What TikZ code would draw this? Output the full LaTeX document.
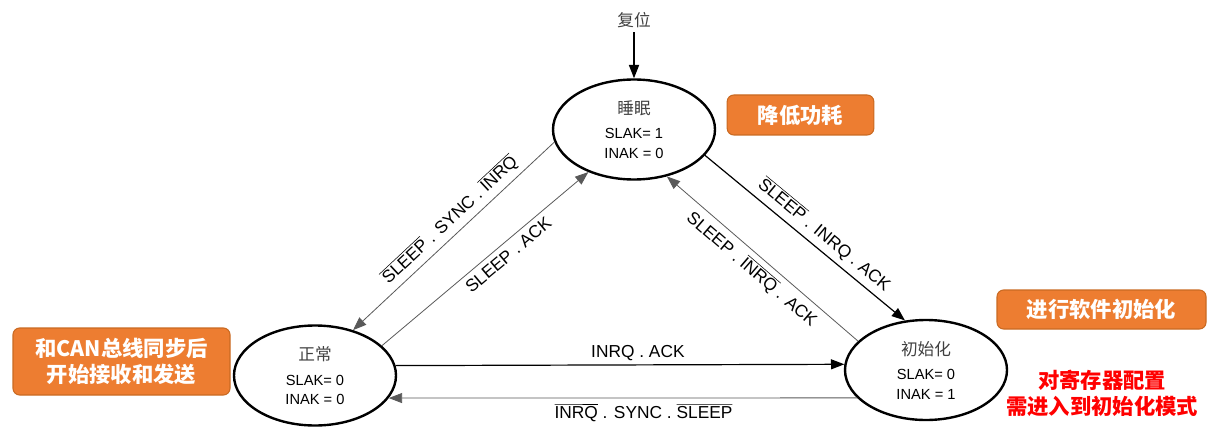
\documentclass[tikz,border=0pt]{standalone}
\usepackage{fontspec}
\setmainfont{Liberation Sans}
\newfontfamily\cjk{Noto Sans CJK SC}
\usetikzlibrary{arrows.meta,shapes.geometric}
\definecolor{boxorange}{HTML}{ED7D31}
\definecolor{boxedge}{HTML}{C96A22}
\begin{document}
\begin{tikzpicture}[x=0.75pt,y=-0.75pt,
    tip/.style={-{Triangle[length=10pt,width=7.5pt]}},
    note/.style={rectangle,rounded corners=5pt,fill=boxorange,draw=boxedge,line width=0.8pt,
      text=white,align=center,inner sep=0pt,font=\cjk\bfseries\fontsize{16}{20}\selectfont}]
  \useasboundingbox (0,0) rectangle (1219,431);
  \begin{scope}[every node/.style={ellipse,draw,line width=1.8pt,minimum width=121.5pt,
      minimum height=75pt,inner sep=0pt,align=center,font=\fontsize{11}{14.5}\selectfont}]
    \node (sleep) at (634,129.5) {{\cjk\fontsize{12.5}{14}\selectfont\color{black!75}睡眠}\\[4pt]SLAK= 1\\INAK = 0};
    \node (normal) at (315,375.5) {{\cjk\fontsize{12.5}{14}\selectfont\color{black!75}正常}\\[4pt]SLAK= 0\\INAK = 0};
    \node (init) at (926,370) {{\cjk\fontsize{12.5}{14}\selectfont\color{black!75}初始化}\\[4pt]SLAK= 0\\INAK = 1};
  \end{scope}
  \node (reset) at (634,20) {\cjk\fontsize{12.5}{14}\selectfont\color{black!75}复位};
  \draw[line width=1.3pt,tip] (reset) -- (sleep.north);
  \begin{scope}[every edge/.style={draw=black!65,line width=0.6pt,tip},
      every node/.style={sloped,inner sep=4pt,font=\fontsize{13}{15}\selectfont}]
    \path (sleep.189.7) edge node[above,pos=0.47] {$\overline{\mbox{SLEEP}}$ . SYNC . $\overline{\mbox{INRQ}}$} (normal.50.9);
    \path (normal.24.2) edge node[below,pos=0.575] {SLEEP . ACK} (sleep.223.4);
    \path (sleep.340.7) edge[draw=black,line width=0.9pt] node[above,pos=0.55] {$\overline{\mbox{SLEEP}}$ . INRQ . ACK} (init.113.9);
    \path (init.157.6) edge node[below,pos=0.505] {SLEEP . $\overline{\mbox{INRQ}}$ . ACK} (sleep.305.6);
    \path (normal.7.5) edge[draw=black,line width=0.9pt] node[above,pos=0.54,inner sep=2.5pt] {INRQ . ACK} (init.176.5);
    \path (init.202) edge node[below,pos=0.456] {$\overline{\mbox{INRQ}}$ . SYNC . $\overline{\mbox{SLEEP}}$} (normal.343.6);
  \end{scope}
  \node[note,minimum width=110pt,minimum height=30pt] (lowpower) at (800.5,115) {降低功耗};
  \node[note,minimum width=156.75pt,minimum height=29.25pt] (swinit) at (1101.5,309.5) {进行软件初始化};
  \node[note,minimum width=162.75pt,minimum height=50.25pt] (syncnote) at (121.5,361.5) {和CAN总线同步后\\开始接收和发送};
  \node[text=red,align=center,font=\cjk\bfseries\fontsize{16}{19.5}\selectfont] (regnote) at (1102,393) {对寄存器配置\\需进入到初始化模式};
\end{tikzpicture}
\end{document}
